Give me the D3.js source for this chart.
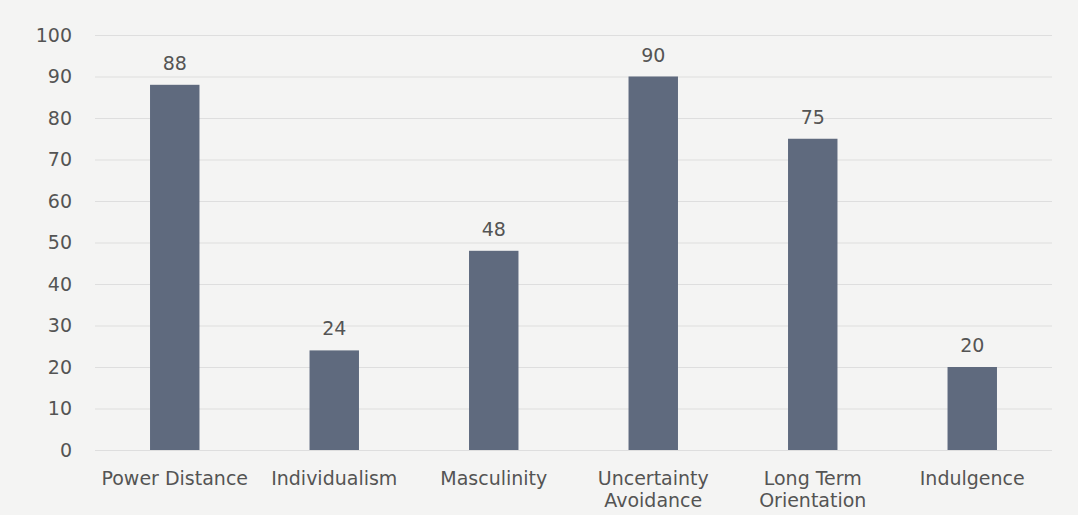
<!DOCTYPE html>
<html><head><meta charset="utf-8">
<script src="https://cdn.jsdelivr.net/npm/d3@7"></script>
<style>
html,body{margin:0;padding:0;background:#f4f4f3;}
svg{display:block;}
</style></head><body>
<svg id="c" width="1078" height="515"></svg>
<script>
const categories = [["Power Distance"],["Individualism"],["Masculinity"],["Uncertainty","Avoidance"],["Long Term","Orientation"],["Indulgence"]];
const values = [88, 24, 48, 90, 75, 20];
const yTicks = [0,10,20,30,40,50,60,70,80,90,100];

const W = 1078, H = 515;
const m = {left:95, right:26, top:35, bottom:65};
const svg = d3.select("#c");
svg.append("rect").attr("width",W).attr("height",H).attr("fill","#f4f4f3");

const keys = categories.map(c=>c.join(" "));
const x = d3.scaleBand().domain(keys).range([m.left, W-m.right]).paddingInner(0.69).paddingOuter(0.345);
const y = d3.scaleLinear().domain([0,100]).range([H-m.bottom, m.top]);

const font = "'DejaVu Sans', sans-serif";
const textColor = "#545454";

// gridlines
const yAxis = d3.axisLeft(y).tickValues(yTicks).tickSize(-(W-m.left-m.right)).tickPadding(23);
const gy = svg.append("g").attr("transform",`translate(${m.left},0)`).call(yAxis);
gy.select(".domain").remove();
gy.selectAll(".tick line").attr("stroke","#dedede").attr("stroke-width",1.2);
gy.selectAll(".tick text").attr("fill",textColor).style("font-family",font).style("font-size","19px");

// bars
svg.append("g").selectAll("rect").data(values).join("rect")
  .attr("x",(d,i)=>x(keys[i]))
  .attr("y",d=>y(d))
  .attr("width",x.bandwidth())
  .attr("height",d=>y(0)-y(d))
  .attr("fill","#5f6a7e");

// value labels
svg.append("g").selectAll("text").data(values).join("text")
  .attr("x",(d,i)=>x(keys[i])+x.bandwidth()/2)
  .attr("y",d=>y(d)-15)
  .attr("text-anchor","middle")
  .attr("fill",textColor)
  .style("font-family",font).style("font-size","19px")
  .text(d=>d);

// x axis labels
const xAxis = d3.axisBottom(x).tickSize(0).tickPadding(0).tickFormat(()=>"");
const gx = svg.append("g").attr("transform",`translate(0,${H-m.bottom})`).call(xAxis);
gx.select(".domain").remove();
gx.selectAll(".tick").each(function(d,i){
  const t = d3.select(this).append("text")
    .attr("text-anchor","middle").attr("fill",textColor)
    .style("font-family",font).style("font-size","19px");
  categories[i].forEach((line,j)=>{
    t.append("tspan").attr("x",0).attr("y",35+j*22).text(line);
  });
});
</script>
</body></html>
